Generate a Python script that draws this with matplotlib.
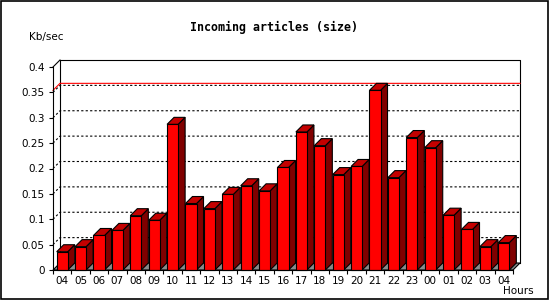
import matplotlib
matplotlib.use("Agg")
import matplotlib.pyplot as plt
from matplotlib.patches import Rectangle, Polygon
from matplotlib.ticker import FixedLocator, NullFormatter

# Data: average size of incoming articles per hour
hours = ["04", "05", "06", "07", "08", "09", "10", "11", "12", "13", "14", "15", "16",
         "17", "18", "19", "20", "21", "22", "23", "00", "01", "02", "03", "04"]
kb_per_sec = [0.036, 0.046, 0.068, 0.078, 0.107, 0.098, 0.287, 0.131, 0.121, 0.149,
              0.166, 0.156, 0.202, 0.272, 0.245, 0.188, 0.204, 0.354, 0.182, 0.261,
              0.241, 0.108, 0.080, 0.046, 0.054]
y_ticks = [0, 0.05, 0.1, 0.15, 0.2, 0.25, 0.3, 0.35, 0.4]
y_tick_labels = ["0", "0.05", "0.1", "0.15", "0.2", "0.25", "0.3", "0.35", "0.4"]

# Colours
FRONT = "#ff0000"
TOP = "#c40000"
SIDE = "#800000"
FLOOR = "#8a8a8a"

W, H = 550, 300
fig = plt.figure(figsize=(W / 100, H / 100), dpi=100)
fig.patch.set_facecolor("white")

# front plot area in pixels
left_px, right_px, bottom_px, top_px = 53, 513, 270, 67
ax = fig.add_axes([left_px / W, (H - bottom_px) / H,
                   (right_px - left_px) / W, (bottom_px - top_px) / H])
n = len(hours)
ymax = 0.4
ax.set_xlim(0, n)
ax.set_ylim(0, ymax)
ax.patch.set_visible(False)

# 3D depth converted to data units
depth_px = 7
dx = depth_px * n / (right_px - left_px)
dy = depth_px * ymax / (bottom_px - top_px)
lw = 0.8

# floor
ax.add_patch(Polygon([(0, 0), (n, 0), (n + dx, dy), (dx, dy)], closed=True,
                     facecolor=FLOOR, edgecolor="black", linewidth=lw, clip_on=False, zorder=1))

# back wall frame
ax.plot([dx, dx, n + dx, n + dx], [dy, ymax + dy, ymax + dy, dy],
        color="black", linewidth=lw, clip_on=False, zorder=1)
ax.plot([0, dx], [ymax, ymax + dy], color="black", linewidth=lw, clip_on=False, zorder=1)

# dotted grid on the back wall
for t in y_ticks[1:-1]:
    ax.plot([0, dx, n + dx], [t, t + dy, t + dy], color="black", linewidth=lw,
            linestyle=(0, (2, 2)), clip_on=False, zorder=1)

# max value line
vmax = max(kb_per_sec)
ax.plot([0, dx, n + dx], [vmax, vmax + dy, vmax + dy], color="red", linewidth=lw,
        clip_on=False, zorder=1.5)

# 3D bars
bw = 0.6
for i, v in enumerate(kb_per_sec):
    x0 = i + 0.2
    x1 = x0 + bw
    ax.add_patch(Polygon([(x1, 0), (x1 + dx, dy), (x1 + dx, v + dy), (x1, v)], closed=True,
                         facecolor=SIDE, edgecolor="black", linewidth=lw, clip_on=False, zorder=2))
    ax.add_patch(Polygon([(x0, v), (x1, v), (x1 + dx, v + dy), (x0 + dx, v + dy)], closed=True,
                         facecolor=TOP, edgecolor="black", linewidth=lw, clip_on=False, zorder=2))
    ax.add_patch(Rectangle((x0, 0), bw, v, facecolor=FRONT, edgecolor="black",
                           linewidth=lw, clip_on=False, zorder=3))

# axes and ticks
for s in ["top", "right"]:
    ax.spines[s].set_visible(False)
for s in ["left", "bottom"]:
    ax.spines[s].set_linewidth(lw)
    ax.spines[s].set_zorder(4)

ax.set_yticks(y_ticks)
ax.set_yticklabels(y_tick_labels)
ax.xaxis.set_major_locator(FixedLocator(range(n + 1)))
ax.xaxis.set_major_formatter(NullFormatter())
ax.set_xticks([i + 0.5 for i in range(n)], labels=hours, minor=True)
ax.tick_params(axis="x", which="major", length=3, width=lw, direction="out")
ax.tick_params(axis="x", which="minor", length=0, pad=4, labelsize=7.5)
ax.tick_params(axis="y", length=3, width=lw, direction="out", pad=3, labelsize=7.5)

# texts
fig.text(274 / W, 1 - 27.5 / H, "Incoming articles (size)", ha="center", va="center",
         fontsize=8.4, fontweight="bold", family="DejaVu Sans Mono")
fig.text(29 / W, 1 - 37 / H, "Kb/sec", ha="left", va="center", fontsize=7.5)
fig.text(534 / W, 1 - 291 / H, "Hours", ha="right", va="center", fontsize=7.5)

# image border
fig.patches.append(Rectangle((0.5 / W, 1.5 / H), 547.5 / W, 298 / H, transform=fig.transFigure,
                             fill=False, edgecolor="black", linewidth=1.2))

fig.savefig("out.png", dpi=100)
